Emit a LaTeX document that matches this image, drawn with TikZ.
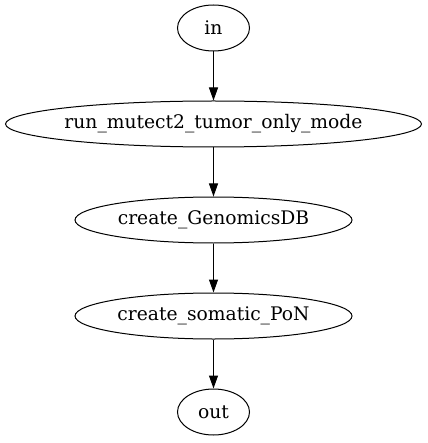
\documentclass[tikz,border=0pt]{standalone}
\usepackage{fontspec}
\setmainfont{DejaVu Serif}
\usepackage{tikz}
\usetikzlibrary{positioning}
\usetikzlibrary{shapes.geometric}
\usetikzlibrary{arrows.meta}

\begin{document}
\begin{tikzpicture}[
    step_node/.style={ellipse, draw=black, line width=1pt, inner sep=0pt, minimum height=46pt, font=\fontsize{18.7pt}{21pt}\selectfont},
    node distance=49pt,
    >={Triangle[length=13pt,width=9pt]}
]
\useasboundingbox (0,0) rectangle (427pt,-443pt);
\node[step_node, minimum width=72pt] (in) at (213.5pt,-28pt) {in};
\node[step_node, minimum width=416pt, inner xsep=-4pt] (mutect) [below=of in] {run\_mutect2\_tumor\_only\_mode};
\node[step_node, minimum width=277pt] (genomicsdb) [below=of mutect] {create\_GenomicsDB};
\node[step_node, minimum width=277pt] (pon) [below=of genomicsdb] {create\_somatic\_PoN};
\node[step_node, minimum width=72pt] (out) [below=of pon] {out};

\draw[->, line width=1pt] (in.south) to (mutect.north);
\draw[->, line width=1pt] (mutect.south) to (genomicsdb.north);
\draw[->, line width=1pt] (genomicsdb.south) to (pon.north);
\draw[->, line width=1pt] (pon.south) to (out.north);
\end{tikzpicture}
\end{document}
